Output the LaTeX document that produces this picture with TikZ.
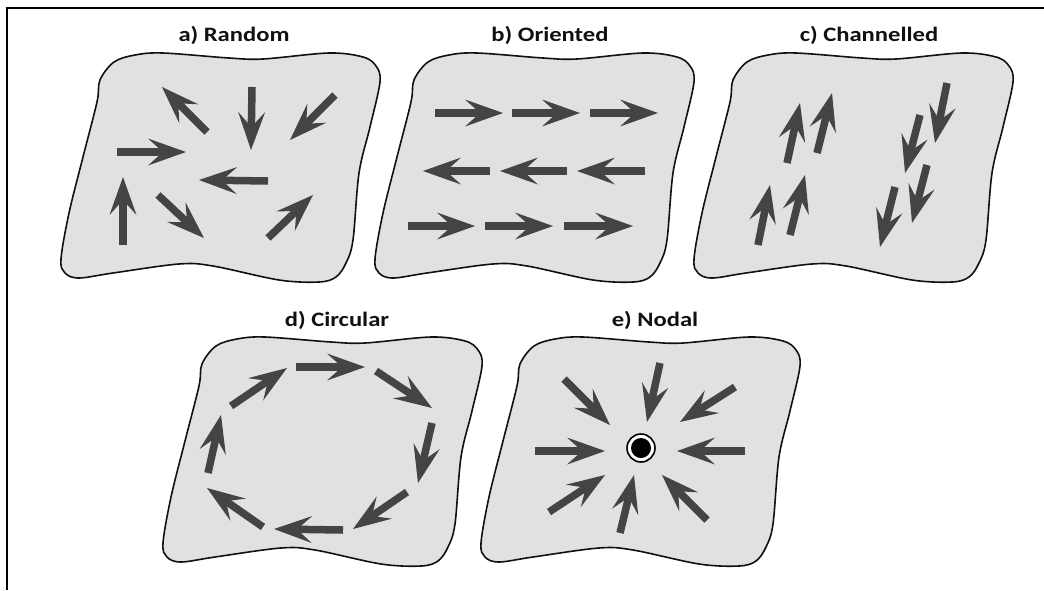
\documentclass[tikz,border=0pt]{standalone}
\usepackage{fontspec}
\newfontfamily\labelfont{Carlito}
\usetikzlibrary{arrows.meta}

\definecolor{blobfill}{HTML}{E1E1E1}
\definecolor{flowgray}{HTML}{444444}
\definecolor{inkblack}{HTML}{111111}

\tikzset{
  blobline/.style={draw=inkblack, line width=1.6pt, fill=blobfill},
  flow/.style={draw=flowgray, line width=7.5pt,
    -{Stealth[length=38pt,width=27pt,inset=15pt,line width=0pt,fill=flowgray]}},
  paneltitle/.style={font=\labelfont\bfseries\fontsize{20.5}{24}\selectfont,
    text=inkblack, inner sep=0pt},
  pics/blob/.style={code={
    \path[blobline] plot[smooth cycle, tension=0.55] coordinates {
      (36,50) (39,28) (53,10) (74,3) (102,1) (168,6) (202,7) (268,1)
      (302,5) (315,14) (319,30) (309,75) (298,121) (292,188) (285,211)
      (275,225) (258,230) (218,228) (152,214) (118,212) (52,221)
      (18,226) (4,221) (0,207) (8,161) (22,105)};
  }}
}

\begin{document}
\begin{tikzpicture}[x=1pt, y=-1pt]
\useasboundingbox (0,0) rectangle (1044,590);

% frame lines
\draw[line width=2.2pt, draw=black] (6.7,590) -- (6.7,8.3) -- (1044,8.3);

% regions
\pic at (61,52)   {blob};
\pic at (375,52)  {blob};
\pic at (694,52)  {blob};
\pic at (163,336) {blob};
\pic at (481,336) {blob};

% titles
\node[paneltitle] (ta) at (234,35)  {\scalebox{1.2}[1]{a) Random}};
\node[paneltitle] (tb) at (550,35)  {\scalebox{1.2}[1]{b) Oriented}};
\node[paneltitle] (tc) at (869,35)  {\scalebox{1.2}[1]{c) Channelled}};
\node[paneltitle] (td) at (337,320) {\scalebox{1.2}[1]{d) Circular}};
\node[paneltitle] (te) at (655,320) {\scalebox{1.2}[1]{e) Nodal}};

% a) random flow
\draw[flow] (207,132) -- (162,87);
\draw[flow] (252,87)  -- (251,150);
\draw[flow] (335,95)  -- (290,140);
\draw[flow] (117,152) -- (186,152);
\draw[flow] (268,181) -- (199,180);
\draw[flow] (123,245) -- (123,177);
\draw[flow] (158,195) -- (204,238);
\draw[flow] (268,238) -- (313,195);

% b) oriented flow
\draw[flow] (435,113) -- (503,113);
\draw[flow] (512,113) -- (580,113);
\draw[flow] (590,113) -- (658,113);
\draw[flow] (490,171) -- (423,171);
\draw[flow] (567,171) -- (500,171);
\draw[flow] (645,171) -- (577,171);
\draw[flow] (408,226) -- (475,226);
\draw[flow] (485,226) -- (553,226);
\draw[flow] (564,226) -- (633,226);

% c) channelled flow
\draw[flow] (787,163) -- (800,103);
\draw[flow] (817,153) -- (832,93);
\draw[flow] (758,245) -- (770,185);
\draw[flow] (790,235) -- (805,175);
\draw[flow] (947,83)  -- (935,143);
\draw[flow] (920,115) -- (905,173);
\draw[flow] (927,165) -- (912,223);
\draw[flow] (895,187) -- (880,247);

% d) circular flow
\draw[flow] (296,367) -- (365,367);
\draw[flow] (376,371) -- (432,408);
\draw[flow] (432,423) -- (418,483);
\draw[flow] (407,492) -- (353,529);
\draw[flow] (343,530) -- (274,529);
\draw[flow] (263,527) -- (207,488);
\draw[flow] (208,473) -- (221,415);
\draw[flow] (231,406) -- (287,368);

% e) nodal flow
\draw[flow] (660,363) -- (647,422);
\draw[flow] (564,379) -- (610,425);
\draw[flow] (735,387) -- (680,422);
\draw[flow] (535,451) -- (605,451);
\draw[flow] (745,451) -- (677,451);
\draw[flow] (549,512) -- (605,475);
\draw[flow] (620,533) -- (634,475);
\draw[flow] (707,520) -- (662,475);

% node marker
\node[circle, draw=black, line width=1.6pt, fill=white, minimum size=28pt, inner sep=0pt] (nodering) at (641,448) {};
\node[circle, fill=black, minimum size=20pt, inner sep=0pt] (nodecore) at (nodering.center) {};

\end{tikzpicture}
\end{document}
